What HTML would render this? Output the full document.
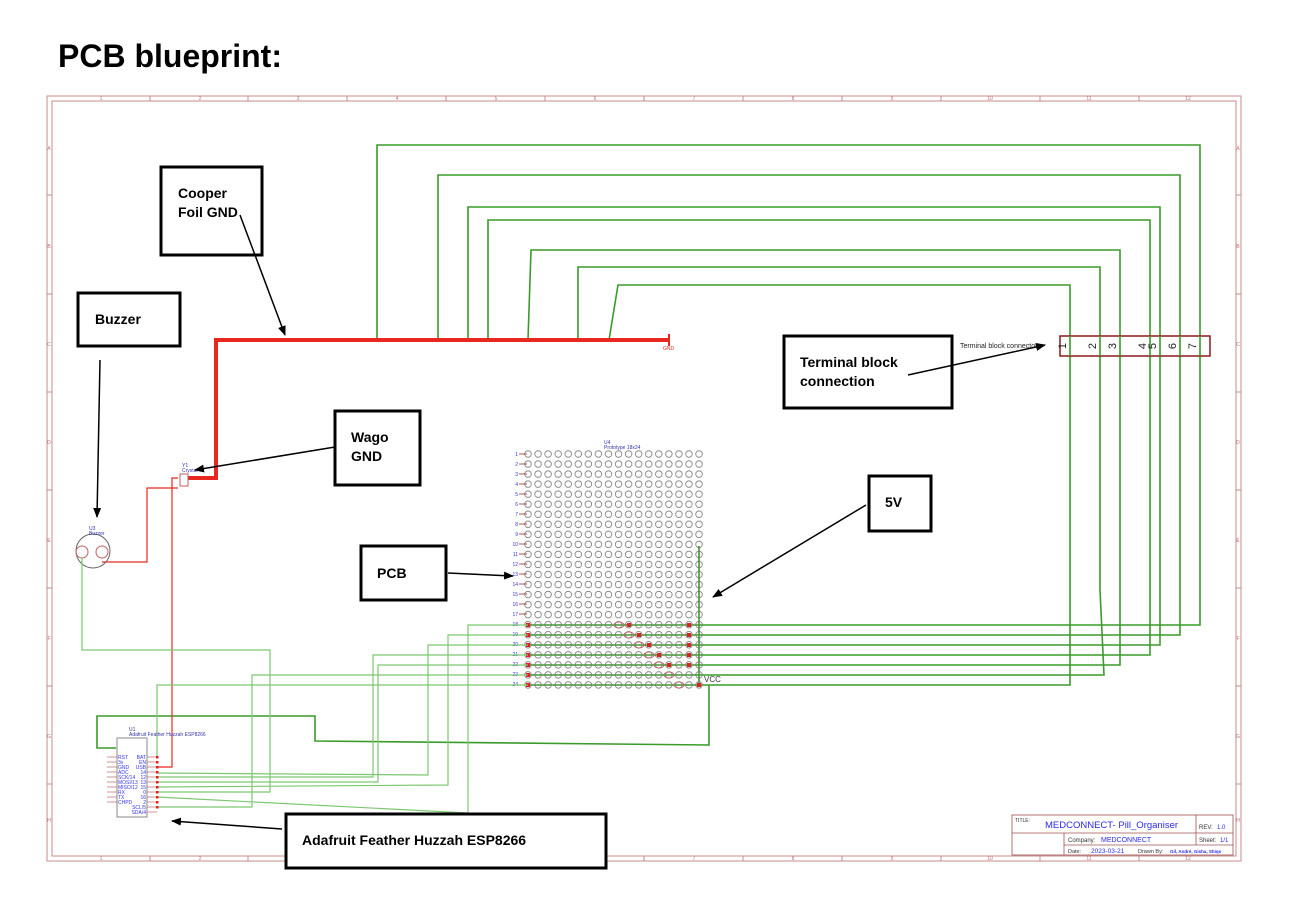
<!DOCTYPE html>
<html><head><meta charset="utf-8"><style>
body{margin:0;background:#fff;width:1300px;height:898px;overflow:hidden;font-family:"Liberation Sans",Arial,sans-serif}
svg{position:absolute;left:0;top:0}
</style></head><body>
<svg width="1300" height="898" viewBox="0 0 1300 898" font-family="Liberation Sans, Arial, sans-serif">
<defs>
<pattern id="holes" x="523" y="449" width="10.06" height="10.04" patternUnits="userSpaceOnUse">
<circle cx="5" cy="5" r="3.3" fill="none" stroke="#777" stroke-width="0.8"/>
</pattern>
<marker id="ah" markerWidth="10" markerHeight="8" refX="9" refY="4" orient="auto" markerUnits="userSpaceOnUse"><path d="M0,0 L10,4 L0,8 z" fill="#000"/></marker>
</defs>
<text x="58" y="67" font-size="32" font-weight="bold">PCB blueprint:</text>
<!-- frame -->
<g stroke="#c98b8b" fill="none" stroke-width="1">
<rect x="47" y="96" width="1194" height="765"/>
<rect x="52" y="101" width="1184" height="755"/>
</g>
<g stroke="#c98b8b" stroke-width="1">
<line x1="150" y1="96" x2="150" y2="101"/><line x1="248" y1="96" x2="248" y2="101"/><line x1="347" y1="96" x2="347" y2="101"/><line x1="446" y1="96" x2="446" y2="101"/><line x1="545" y1="96" x2="545" y2="101"/><line x1="644" y1="96" x2="644" y2="101"/><line x1="743" y1="96" x2="743" y2="101"/><line x1="842" y1="96" x2="842" y2="101"/><line x1="941" y1="96" x2="941" y2="101"/><line x1="1040" y1="96" x2="1040" y2="101"/><line x1="1139" y1="96" x2="1139" y2="101"/>
<line x1="150" y1="856" x2="150" y2="861"/><line x1="248" y1="856" x2="248" y2="861"/><line x1="347" y1="856" x2="347" y2="861"/><line x1="446" y1="856" x2="446" y2="861"/><line x1="545" y1="856" x2="545" y2="861"/><line x1="644" y1="856" x2="644" y2="861"/><line x1="743" y1="856" x2="743" y2="861"/><line x1="842" y1="856" x2="842" y2="861"/><line x1="941" y1="856" x2="941" y2="861"/><line x1="1040" y1="856" x2="1040" y2="861"/><line x1="1139" y1="856" x2="1139" y2="861"/>
<line x1="47" y1="195" x2="52" y2="195"/><line x1="47" y1="294" x2="52" y2="294"/><line x1="47" y1="392" x2="52" y2="392"/><line x1="47" y1="490" x2="52" y2="490"/><line x1="47" y1="588" x2="52" y2="588"/><line x1="47" y1="686" x2="52" y2="686"/><line x1="47" y1="784" x2="52" y2="784"/>
<line x1="1236" y1="195" x2="1241" y2="195"/><line x1="1236" y1="294" x2="1241" y2="294"/><line x1="1236" y1="392" x2="1241" y2="392"/><line x1="1236" y1="490" x2="1241" y2="490"/><line x1="1236" y1="588" x2="1241" y2="588"/><line x1="1236" y1="686" x2="1241" y2="686"/><line x1="1236" y1="784" x2="1241" y2="784"/>
</g>
<g fill="#c07070" font-size="5" text-anchor="middle">
<text x="101" y="100">1</text><text x="200" y="100">2</text><text x="298" y="100">3</text><text x="397" y="100">4</text><text x="496" y="100">5</text><text x="595" y="100">6</text><text x="694" y="100">7</text><text x="793" y="100">8</text><text x="892" y="100">9</text><text x="990" y="100">10</text><text x="1089" y="100">11</text><text x="1188" y="100">12</text>
<text x="101" y="860">1</text><text x="200" y="860">2</text><text x="298" y="860">3</text><text x="397" y="860">4</text><text x="496" y="860">5</text><text x="595" y="860">6</text><text x="694" y="860">7</text><text x="793" y="860">8</text><text x="892" y="860">9</text><text x="990" y="860">10</text><text x="1089" y="860">11</text><text x="1188" y="860">12</text>
<text x="49" y="150">A</text><text x="49" y="248">B</text><text x="49" y="346">C</text><text x="49" y="444">D</text><text x="49" y="542">E</text><text x="49" y="640">F</text><text x="49" y="738">G</text><text x="49" y="822">H</text>
<text x="1238" y="150">A</text><text x="1238" y="248">B</text><text x="1238" y="346">C</text><text x="1238" y="444">D</text><text x="1238" y="542">E</text><text x="1238" y="640">F</text><text x="1238" y="738">G</text><text x="1238" y="822">H</text>
</g>

<!-- top green loops -->
<g stroke="#3a9a2a" stroke-width="1.6" fill="none">
<polyline points="377,340 377,145 1200,145 1200,625 528,625"/>
<polyline points="438,340 438,175 1180,175 1180,635 528,635"/>
<polyline points="468,340 468,207 1160,207 1160,645 528,645"/>
<polyline points="488,340 488,220 1150,220 1150,655 528,655"/>
<polyline points="528,340 531,250 1120,250 1120,665 528,665"/>
<polyline points="578,340 578,267 1100,267 1100,590 1104,675 528,675"/>
<polyline points="609,340 618,285 1070,285 1070,685 528,685"/>
<polyline points="699,546 699,685"/>
<polyline points="709,685 709,745 315,741 315,716 97,716 97,748 116,748"/>
</g>
<!-- PCB grid -->
<rect x="523" y="449" width="181.1" height="241" fill="url(#holes)"/>
<text x="604" y="444" font-size="5" fill="#3333aa">U4</text>
<text x="604" y="449" font-size="5" fill="#3333aa">Prototype 18x24</text>
<g fill="#3333ee" font-size="5" text-anchor="end">
<text x="518" y="456">1</text><text x="518" y="466">2</text><text x="518" y="476">3</text><text x="518" y="486">4</text><text x="518" y="496">5</text><text x="518" y="506">6</text><text x="518" y="516">7</text><text x="518" y="526">8</text><text x="518" y="536">9</text><text x="518" y="546">10</text><text x="518" y="556">11</text><text x="518" y="566">12</text><text x="518" y="576">13</text><text x="518" y="586">14</text><text x="518" y="596">15</text><text x="518" y="606">16</text><text x="518" y="616">17</text><text x="518" y="626">18</text><text x="518" y="636">19</text><text x="518" y="646">20</text><text x="518" y="656">21</text><text x="518" y="666">22</text><text x="518" y="676">23</text><text x="518" y="686">24</text>
</g>
<g stroke="#8b2020" stroke-width="0.8">
<path d="M519,454h8M519,464h8M519,474h8M519,484h8M519,494h8M519,504h8M519,514h8M519,524h8M519,534h8M519,544h8M519,554h8M519,564h8M519,574h8M519,584h8M519,594h8M519,604h8M519,614h8"/>
</g>
<g fill="#e02020">
<rect x="526" y="623" width="4" height="4"/><rect x="526" y="633" width="4" height="4"/><rect x="526" y="643" width="4" height="4"/><rect x="526" y="653" width="4" height="4"/><rect x="526" y="663" width="4" height="4"/><rect x="526" y="673" width="4" height="4"/><rect x="526" y="683" width="4" height="4"/>
<rect x="687" y="623" width="4" height="4"/><rect x="687" y="633" width="4" height="4"/><rect x="687" y="643" width="4" height="4"/><rect x="687" y="653" width="4" height="4"/><rect x="687" y="663" width="4" height="4"/><rect x="697" y="683" width="4" height="4"/>
<rect x="627" y="623" width="4" height="4"/><rect x="637" y="633" width="4" height="4"/><rect x="647" y="643" width="4" height="4"/><rect x="657" y="653" width="4" height="4"/><rect x="667" y="663" width="4" height="4"/>
</g>
<g fill="none" stroke="#c06060" stroke-width="0.8">
<ellipse cx="619" cy="625" rx="5" ry="3"/><ellipse cx="629" cy="635" rx="5" ry="3"/><ellipse cx="639" cy="645" rx="5" ry="3"/><ellipse cx="649" cy="655" rx="5" ry="3"/><ellipse cx="659" cy="665" rx="5" ry="3"/><ellipse cx="669" cy="675" rx="5" ry="3"/><ellipse cx="679" cy="685" rx="5" ry="3"/>
</g>
<text x="704" y="682" font-size="8" fill="#333">VCC</text>

<!-- terminal block -->
<rect x="1060" y="336" width="150" height="20" fill="#fff" stroke="#8b1a1a" stroke-width="1.5"/>
<g stroke="#3a9a2a" stroke-width="1.6"><path d="M1070,336v20M1100,336v20M1120,336v20M1150,336v20M1160,336v20M1180,336v20M1200,336v20"/></g>
<g font-size="11" fill="#222" text-anchor="middle">
<text transform="translate(1066,346) rotate(-90)">1</text><text transform="translate(1096,346) rotate(-90)">2</text><text transform="translate(1116,346) rotate(-90)">3</text><text transform="translate(1146,346) rotate(-90)">4</text><text transform="translate(1156,346) rotate(-90)">5</text><text transform="translate(1176,346) rotate(-90)">6</text><text transform="translate(1196,346) rotate(-90)">7</text>
</g>
<text x="960" y="348" font-size="7" fill="#222">Terminal block connector</text>

<!-- red wires -->
<polyline points="183,478 216,478 216,340 669,340" fill="none" stroke="#e8281e" stroke-width="4"/>
<line x1="669" y1="334" x2="669" y2="346" stroke="#e8281e" stroke-width="2"/>
<text x="663" y="350" font-size="5" fill="#e8281e">GND</text>
<g fill="none" stroke="#e8281e" stroke-width="1.2">
<polyline points="102,562 147,562 147,488 178,488"/>
<polyline points="178,478 172,478 172,767 157,767"/>
</g>
<!-- crystal -->
<rect x="180" y="474" width="8" height="12" fill="#fff" stroke="#c06060"/>
<text x="182" y="467" font-size="5" fill="#3333aa">Y1</text><text x="182" y="472" font-size="5" fill="#3333aa">Crystal</text>
<!-- buzzer -->
<circle cx="93" cy="551" r="17" fill="none" stroke="#666" stroke-width="1"/>
<circle cx="82" cy="552" r="6" fill="none" stroke="#c06060"/><circle cx="102" cy="552" r="6" fill="none" stroke="#c06060"/>
<text x="89" y="530" font-size="5" fill="#3333aa">U3</text><text x="89" y="535" font-size="5" fill="#3333aa">Buzzer</text>

<!-- ESP wires light green -->
<g fill="none" stroke="#7cc870" stroke-width="1.2">
<polyline points="157,773 428,775 428,645 528,645"/>
<polyline points="157,777 373,777 373,655 528,655"/>
<polyline points="157,782 378,782 378,665 528,665"/>
<polyline points="157,787 448,785 448,635 528,635"/>
<polyline points="157,792 270,792 270,650 82,650 82,558"/>
<polyline points="157,797 468,813 468,625 528,625"/>
<polyline points="157,807 252,807 252,675 528,675"/>
<polyline points="157,757 157,685 528,685"/>
</g>
<!-- ESP module -->
<rect x="117" y="738" width="30" height="79" fill="#fff" stroke="#888"/>
<text x="129" y="731" font-size="5" fill="#3333aa">U1</text>
<text x="129" y="736" font-size="5" fill="#3333aa">Adafruit Feather Huzzah ESP8266</text>
<g stroke="#c07070" stroke-width="0.8"><path d="M107,757h10M107,762h10M107,767h10M107,772h10M107,777h10M107,782h10M107,787h10M107,792h10M107,797h10M107,802h10M147,757h10M147,762h10M147,767h10M147,772h10M147,777h10M147,782h10M147,787h10M147,792h10M147,797h10M147,802h10M147,807h10M147,812h10"/></g>
<g font-size="5" fill="#3333ee">
<text x="118" y="759">RST</text><text x="118" y="764">3v</text><text x="118" y="769">GND</text><text x="118" y="774">ADC</text><text x="118" y="779">SCK/14</text><text x="118" y="784">MOSI/13</text><text x="118" y="789">MISO/12</text><text x="118" y="794">RX</text><text x="118" y="799">TX</text><text x="118" y="804">CHPD</text>
</g>
<g font-size="5" fill="#3333ee" text-anchor="end">
<text x="146" y="759">BAT</text><text x="146" y="764">EN</text><text x="146" y="769">USB</text><text x="146" y="774">14</text><text x="146" y="779">12</text><text x="146" y="784">13</text><text x="146" y="789">15</text><text x="146" y="794">0</text><text x="146" y="799">16</text><text x="146" y="804">2</text><text x="146" y="809">SCL/5</text><text x="146" y="814">SDA/4</text>
</g>
<g fill="#e02020"><rect x="156" y="756" width="2.5" height="2.5"/><rect x="156" y="761" width="2.5" height="2.5"/><rect x="156" y="766" width="2.5" height="2.5"/><rect x="156" y="771" width="2.5" height="2.5"/><rect x="156" y="776" width="2.5" height="2.5"/><rect x="156" y="781" width="2.5" height="2.5"/><rect x="156" y="786" width="2.5" height="2.5"/><rect x="156" y="791" width="2.5" height="2.5"/><rect x="156" y="796" width="2.5" height="2.5"/><rect x="156" y="801" width="2.5" height="2.5"/><rect x="156" y="806" width="2.5" height="2.5"/></g>

<!-- title block -->
<g stroke="#a05050" fill="none" stroke-width="0.8">
<rect x="1012" y="815" width="221" height="40"/>
<line x1="1012" y1="833" x2="1233" y2="833"/>
<line x1="1064" y1="833" x2="1064" y2="855"/>
<line x1="1064" y1="845" x2="1233" y2="845"/>
<line x1="1196" y1="815" x2="1196" y2="845"/>
</g>
<text x="1015" y="822" font-size="5" fill="#333">TITLE:</text>
<text x="1045" y="828" font-size="9.5" fill="#2a2aee">MEDCONNECT- Pill_Organiser</text>
<text x="1199" y="829" font-size="6" fill="#333">REV:</text><text x="1217" y="829" font-size="6" fill="#2a2aee">1.0</text>
<text x="1068" y="842" font-size="6" fill="#333">Company:</text><text x="1101" y="842" font-size="7" fill="#2a2aee">MEDCONNECT</text>
<text x="1199" y="842" font-size="6" fill="#333">Sheet:</text><text x="1220" y="842" font-size="6" fill="#2a2aee">1/1</text>
<text x="1068" y="853" font-size="5.5" fill="#333">Date:</text><text x="1091" y="853" font-size="6.5" fill="#2a2aee">2023-03-21</text>
<text x="1138" y="853" font-size="5.5" fill="#333">Drawn By:</text><text x="1170" y="853" font-size="4.5" font-weight="bold" fill="#2a2aee">Gil, André, Gisha, Shiqs</text>

<!-- annotation boxes -->
<g fill="#fff" stroke="#000" stroke-width="3">
<rect x="161" y="167" width="101" height="88"/>
<rect x="78" y="293" width="102" height="53"/>
<rect x="335" y="411" width="85" height="74"/>
<rect x="784" y="336" width="168" height="72"/>
<rect x="869" y="476" width="62" height="55"/>
<rect x="361" y="546" width="85" height="54"/>
<rect x="286" y="814" width="320" height="54"/>
</g>
<g font-size="14" font-weight="bold" fill="#000">
<text x="178" y="198">Cooper</text><text x="178" y="217">Foil GND</text>
<text x="95" y="324">Buzzer</text>
<text x="351" y="442">Wago</text><text x="351" y="461">GND</text>
<text x="800" y="367">Terminal block</text><text x="800" y="386">connection</text>
<text x="885" y="507">5V</text>
<text x="377" y="578">PCB</text>
<text x="302" y="845">Adafruit Feather Huzzah ESP8266</text>
</g>
<g stroke="#000" stroke-width="1.5" marker-end="url(#ah)">
<line x1="240" y1="215" x2="285" y2="335"/>
<line x1="100" y1="360" x2="97" y2="517"/>
<line x1="335" y1="447" x2="195" y2="470"/>
<line x1="908" y1="375" x2="1045" y2="345"/>
<line x1="866" y1="505" x2="713" y2="597"/>
<line x1="448" y1="573" x2="513" y2="576"/>
<line x1="282" y1="829" x2="172" y2="821"/>
</g>
</svg>
</body></html>
